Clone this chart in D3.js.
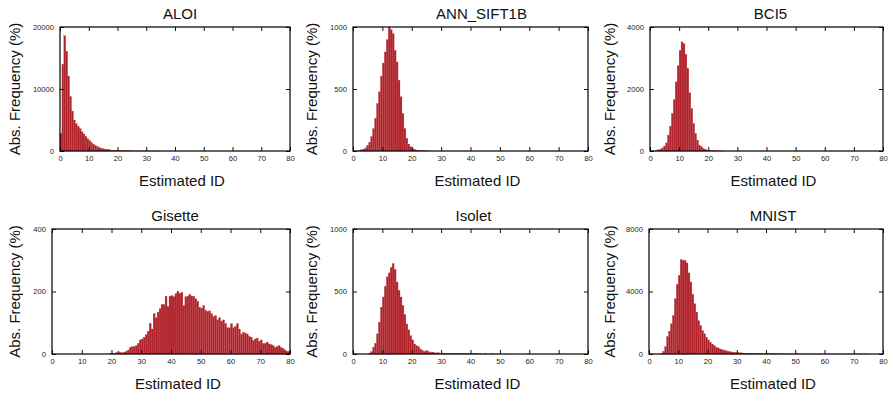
<!DOCTYPE html>
<html>
<head>
<meta charset="utf-8">
<script src="https://cdn.jsdelivr.net/npm/d3@7"></script>
<style>
  html, body { margin: 0; padding: 0; background: #fff; }
  svg { display: block; font-family: "Liberation Sans", Arial, sans-serif; }
  .tick text { font-size: 7.6px; fill: #222; }
  .title, .axis-label { font-size: 15px; fill: #111; }
</style>
</head>
<body>
<svg id="chart" width="888" height="394"></svg>
<script>
// Histograms of estimated intrinsic dimension, bins of 2/3 on [0, 80]
const binWidth = 2 / 3;
const xTicks = [0, 10, 20, 30, 40, 50, 60, 70, 80];

const datasets = ['ALOI', 'ANN_SIFT1B', 'BCI5', 'Gisette', 'Isolet', 'MNIST'];
const yMaxes = [20000, 1000, 4000, 400, 1000, 8000];
const yTicks = [
  [0, 10000, 20000],
  [0, 500, 1000],
  [0, 2000, 4000],
  [0, 200, 400],
  [0, 500, 1000],
  [0, 4000, 8000]
];
// index of the first bin each count list starts at
const startBins = [0, 3, 3, 29, 8, 6];

const aloiCounts = [2850, 14000, 18600, 16100, 12100, 8800, 6450, 5000, 4400, 4000,
  3600, 3100, 2750, 2350, 2000, 1700, 1350, 1100, 900, 720, 580, 450, 370, 310, 260,
  210, 170, 140, 115, 95, 80, 66, 55, 45, 38, 32, 27, 22, 18, 15, 12, 10, 8, 7, 6, 5,
  4, 3, 3, 2, 2, 1, 1];
const annCounts = [5, 10, 15, 25, 45, 70, 115, 180, 263, 383, 477, 603, 710, 799, 898,
  1000, 979, 946, 812, 718, 571, 437, 303, 182, 102, 56, 35, 21, 13, 8, 5, 3, 2, 2, 1, 1];
const bci5Counts = [20, 40, 60, 100, 160, 260, 515, 800, 1210, 1660, 2230, 2750, 3250,
  3520, 3460, 3120, 2660, 1880, 1370, 890, 570, 350, 190, 140, 85, 60, 30, 20, 12, 8, 5,
  4, 3, 2, 1, 1];
const gisetteCounts = [2, 2, 2, 4, 8, 5, 4, 6, 9, 13,
  21, 24, 24, 27, 34, 45, 48, 54, 62, 73,
  98, 80, 129, 116, 134, 145, 159, 158, 185, 152,
  185, 187, 183, 193, 201, 194, 197, 155, 183, 185,
  191, 186, 185, 177, 169, 150, 147, 155, 140, 136,
  138, 129, 120, 123, 109, 116, 105, 109, 98, 84,
  84, 97, 84, 88, 97, 80, 64, 70, 67, 64,
  56, 54, 43, 48, 51, 41, 45, 34, 34, 38,
  32, 30, 27, 21, 24, 27, 21, 18, 13, 9, 9];
const isoletCounts = [5, 19, 54, 86, 161, 255, 375, 456, 542, 617, 649, 692, 724, 676,
  576, 509, 456, 389, 316, 241, 193, 147, 113, 80, 67, 59, 40, 27, 21, 27, 21, 13, 16,
  11, 8, 11, 6, 5, 7, 4, 5, 3, 4, 6, 3, 2, 4, 3, 2, 3, 5, 2, 1, 2, 3, 1, 2, 1, 0, 2, 1,
  0, 1, 2, 0, 1, 0, 0, 0, 0, 1, 0, 0, 0, 0, 0, 0, 0, 0, 0, 0, 1];
const mnistCounts = [43, 170, 470, 1115, 1460, 1930, 2470, 3540, 4460, 5040,
  6050, 6000, 6000, 5830, 5190, 4610, 3820, 3220, 2680, 2140,
  1820, 1500, 1290, 1070, 900, 750, 640, 540, 430, 390,
  320, 280, 240, 210, 170, 150, 130, 110, 100, 90,
  80, 70, 62, 55, 50, 45, 40, 36, 32, 29,
  26, 24, 22, 20, 18, 16, 15, 14, 13, 12,
  11, 10, 9, 8, 8, 7, 7, 6, 6, 5,
  5, 4, 4, 4, 3, 3, 3, 2, 2, 2,
  2, 2, 1, 1, 1, 1, 1, 1, 1, 1,
  1, 1, 1, 1, 1, 1, 1, 1, 1, 1, 1, 1, 1, 1, 1, 1, 1];

const countLists = [aloiCounts, annCounts, bci5Counts, gisetteCounts, isoletCounts, mnistCounts];

// plot boxes, roughly as gnuplot laid them out
const layout = [
  { left: 60,  right: 290, top: 27,  bottom: 151, ylabX: 14,  titleDx: 5 },
  { left: 353, right: 588, top: 27,  bottom: 151, ylabX: 311, titleDx: 11 },
  { left: 650, right: 883, top: 27,  bottom: 151, ylabX: 609, titleDx: 4 },
  { left: 52,  right: 290, top: 229, bottom: 354, ylabX: 14,  titleDx: 4 },
  { left: 353, right: 588, top: 229, bottom: 354, ylabX: 311, titleDx: 3 },
  { left: 649, right: 883, top: 229, bottom: 354, ylabX: 609, titleDx: 7 }
];

const BAR_FILL = '#b0222a';
const svg = d3.select('#chart');

datasets.forEach((name, i) => {
  const box = layout[i];
  const x = d3.scaleLinear().domain([0, 80]).range([box.left, box.right]);
  const y = d3.scaleLinear().domain([0, yMaxes[i]]).range([box.bottom, box.top]);
  const g = svg.append('g').attr('class', 'panel');

  const bins = countLists[i]
    .map((v, k) => ({ x0: (startBins[i] + k) * binWidth, v }))
    .filter(d => d.v > 0 && d.x0 < 80);

  // Bars
  g.append('g').selectAll('rect')
    .data(bins)
    .join('rect')
    .attr('x', d => x(d.x0))
    .attr('width', d => x(Math.min(80, d.x0 + binWidth)) - x(d.x0))
    .attr('y', d => y(d.v))
    .attr('height', d => Math.max(0.01, y(0) - y(d.v)))
    .attr('fill', BAR_FILL)
    .attr('stroke', '#c24a50')
    .attr('stroke-width', 0.3);

  // Axes: ticks point inward and are mirrored on top / right
  const ax = g.append('g').attr('transform', `translate(0,${box.bottom})`)
    .call(d3.axisBottom(x).tickValues(xTicks).tickSize(-4).tickPadding(5).tickFormat(d3.format('d')));
  g.append('g').attr('transform', `translate(0,${box.top})`)
    .call(d3.axisTop(x).tickValues(xTicks).tickSize(-4).tickFormat(''));
  g.append('g').attr('transform', `translate(${box.left},0)`)
    .call(d3.axisLeft(y).tickValues(yTicks[i]).tickSize(-4).tickPadding(6).tickFormat(d3.format('d')));
  g.append('g').attr('transform', `translate(${box.right},0)`)
    .call(d3.axisRight(y).tickValues(yTicks[i]).tickSize(-4).tickFormat(''));
  g.selectAll('.domain').remove();
  g.selectAll('.tick line').attr('stroke', '#111');
  ax.selectAll('text').attr('dy', '0.6em');

  // Frame
  g.append('rect')
    .attr('x', box.left).attr('y', box.top)
    .attr('width', box.right - box.left).attr('height', box.bottom - box.top)
    .attr('fill', 'none').attr('stroke', '#000').attr('stroke-width', 1.2);

  const cx = (box.left + box.right) / 2;

  g.append('text')
    .attr('class', 'title')
    .attr('text-anchor', 'middle')
    .attr('x', cx + box.titleDx)
    .attr('y', box.top - 8)
    .text(name);

  g.append('text')
    .attr('class', 'axis-label')
    .attr('text-anchor', 'middle')
    .attr('x', cx + 7)
    .attr('y', box.bottom + 35)
    .text('Estimated ID');

  g.append('text')
    .attr('class', 'axis-label')
    .attr('text-anchor', 'middle')
    .attr('dominant-baseline', 'central')
    .attr('transform', `translate(${box.ylabX},${(box.top + box.bottom) / 2}) rotate(-90)`)
    .text('Abs. Frequency (%)');
});
</script>
</body>
</html>
